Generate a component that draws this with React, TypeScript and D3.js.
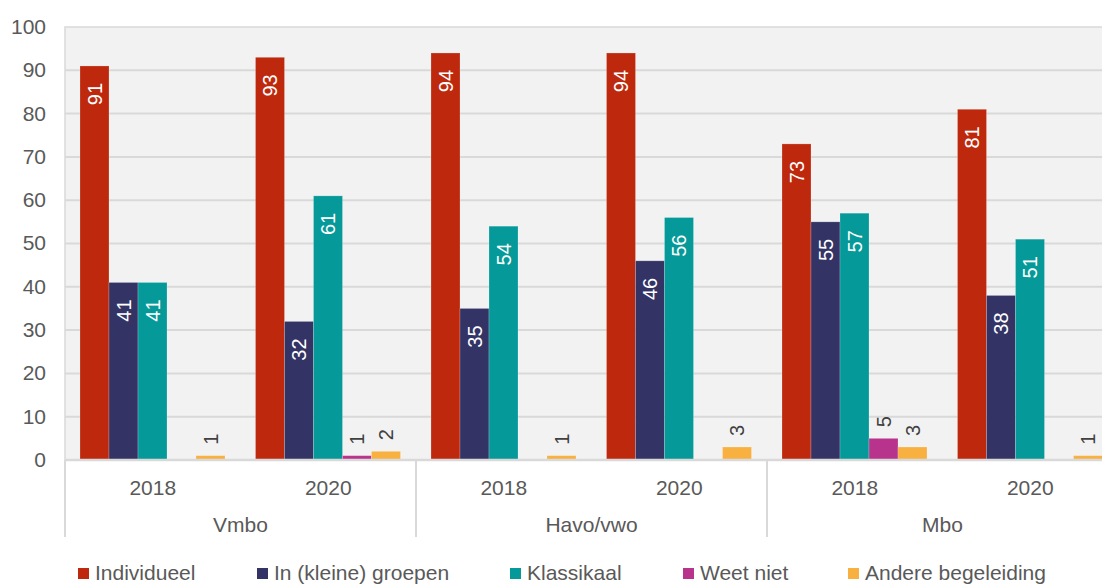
import * as d3 from 'd3';

const GROUPS = ['Vmbo', 'Havo/vwo', 'Mbo'];
const YEARS = ['2018', '2020'];
const SERIES = ['Individueel', 'In (kleine) groepen', 'Klassikaal', 'Weet niet', 'Andere begeleiding'];
const COLORS = ['#BE290E', '#333366', '#059A99', '#B8338B', '#F8B040'];

// one entry per subgroup (group x year)
const INDIVIDUEEL = [91, 93, 94, 94, 73, 81];
const GROEPEN = [41, 32, 35, 46, 55, 38];
const KLASSIKAAL = [41, 61, 54, 56, 57, 51];
const WEET_NIET = [0, 1, 0, 0, 5, 0];
const ANDERE = [1, 2, 1, 3, 3, 1];
const Y_TICKS = [0, 10, 20, 30, 40, 50, 60, 70, 80, 90, 100];

const VALUES = [INDIVIDUEEL, GROEPEN, KLASSIKAAL, WEET_NIET, ANDERE];

const W = 1102;
const H = 586;
const MARGIN = { top: 27, left: 65, bottom: 460 };
const SUB_W = 175.5;
const FONT = '"Liberation Sans", Arial, sans-serif';

const subgroups = GROUPS.flatMap(g => YEARS.map(y => ({ group: g, year: y })));

const App = () => {
	const x0 = d3.scaleBand<number>()
		.domain(d3.range(subgroups.length))
		.range([MARGIN.left, MARGIN.left + SUB_W * subgroups.length]);
	const x1 = d3.scaleBand<number>()
		.domain(d3.range(SERIES.length))
		.range([15, SUB_W - 15.5]);
	const y = d3.scaleLinear().domain([0, 100]).range([MARGIN.bottom, MARGIN.top]);

	const legendX = [78, 257, 510, 683, 848];

	return (
		<svg width={W} height={H} style={{ position: 'absolute', left: 0, top: 0, fontFamily: FONT }}>
			<rect width={W} height={H} fill="#fff" />
			<rect x={MARGIN.left} y={MARGIN.top} width={W - MARGIN.left + 20} height={MARGIN.bottom - MARGIN.top}
				fill="#f2f2f2" stroke="#d9d9d9" strokeWidth={1.5} />
			{Y_TICKS.map(t => (
				<g key={t}>
					{t > 0 && t < 100 && (
						<line x1={MARGIN.left} x2={W} y1={y(t)} y2={y(t)} stroke="#d9d9d9" strokeWidth={2} />
					)}
					<text x={46} y={y(t)} dy="0.33em" textAnchor="end" fontSize={21} fill="#595959">{t}</text>
				</g>
			))}
			{subgroups.map((s, i) => (
				<g key={i} transform={`translate(${x0(i)},0)`}>
					{VALUES.map((vals, k) => {
						const v = vals[i];
						if (v === 0) return null;
						const bx = x1(k)!;
						const bw = x1.bandwidth();
						const cx = bx + bw / 2;
						const inside = v >= 10;
						return (
							<g key={k}>
								<rect x={bx} y={y(v)} width={bw} height={y(0) - y(v)} fill={COLORS[k]}
									stroke="#ffffff" strokeOpacity={0.25} strokeWidth={0.8} />
								<text
									transform={`translate(${cx},${inside ? y(v) + 17 : y(v) - 11}) rotate(-90)`}
									textAnchor={inside ? 'end' : 'start'}
									dy="0.35em"
									fontSize={20}
									fill={inside ? '#ffffff' : '#404040'}
								>{v}</text>
							</g>
						);
					})}
					<text x={SUB_W / 2} y={494.5} textAnchor="middle" fontSize={21} fill="#595959">{s.year}</text>
				</g>
			))}
			<line x1={MARGIN.left} x2={W} y1={y(0)} y2={y(0)} stroke="#d9d9d9" strokeWidth={2.5} />
			{GROUPS.map((g, gi) => {
				const gx = x0(gi * YEARS.length)!;
				return (
					<g key={g}>
						<line x1={gx} x2={gx} y1={y(0)} y2={537} stroke="#d9d9d9" strokeWidth={2} />
						<text x={gx + SUB_W} y={532} textAnchor="middle" fontSize={21} fill="#595959">{g}</text>
					</g>
				);
			})}
			{SERIES.map((s, k) => (
				<g key={s} transform={`translate(${legendX[k]},568)`}>
					<rect width={11} height={11} fill={COLORS[k]} />
					<text x={17} y={12} fontSize={21} fill="#595959">{s}</text>
				</g>
			))}
		</svg>
	);
};

export default App;
